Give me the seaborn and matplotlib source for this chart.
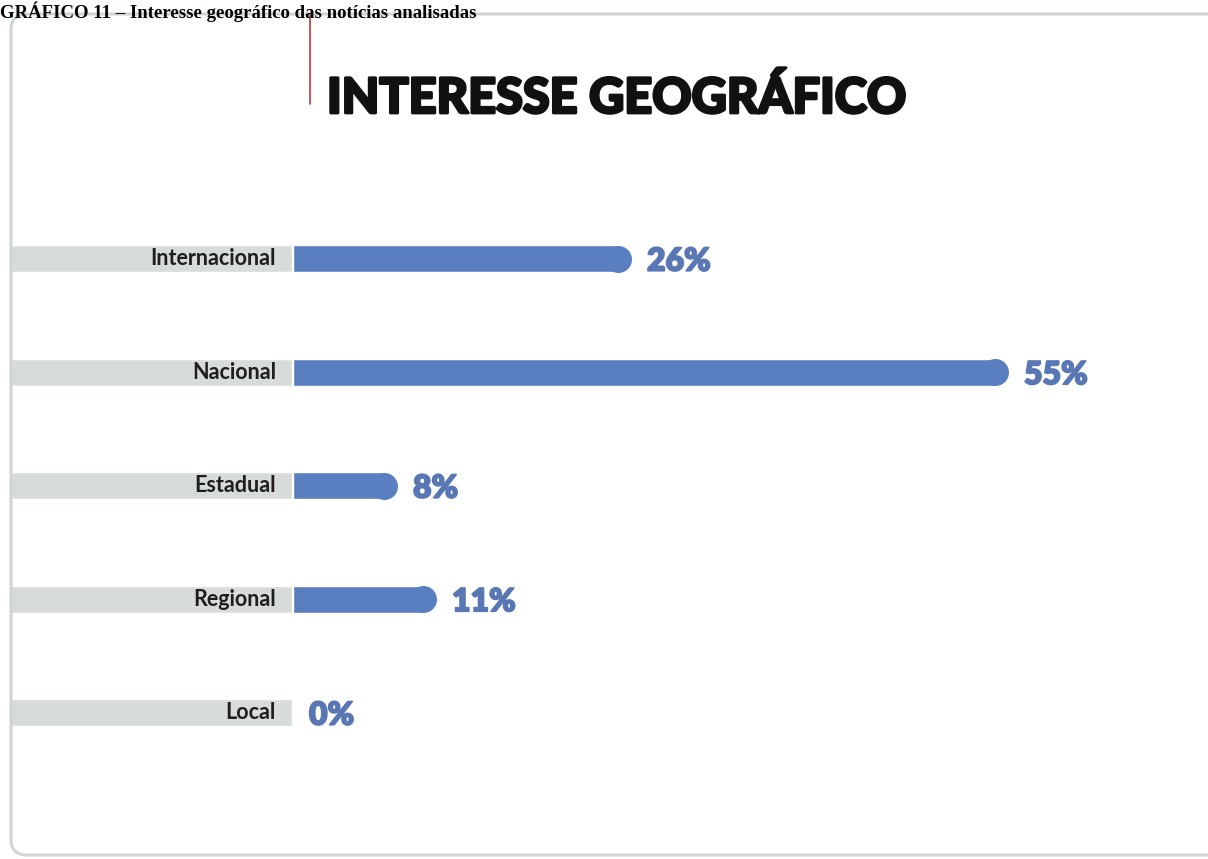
import matplotlib
matplotlib.use("Agg")
import matplotlib.pyplot as plt
import matplotlib.patheffects as pe
import seaborn as sns
from matplotlib.patches import FancyBboxPatch
from matplotlib.lines import Line2D

categories = ["Internacional", "Nacional", "Estadual", "Regional", "Local"]
values = [26, 55, 8, 11, 0]
value_labels = ["26%", "55%", "8%", "11%", "0%"]

heading = "GRÁFICO 11 – Interesse geográfico das notícias analisadas"
title = "INTERESSE GEOGRÁFICO"

BLUE = "#5a7fc1"
GRAY = "#d7dbda"
TXT_BLUE = "#5877b4"

W, H = 1208, 859
sns.set_theme(style="white")
plt.rcParams["font.family"] = ["Lato", "DejaVu Sans"]

fig = plt.figure(figsize=(W / 100, H / 100), dpi=100)
fig.patch.set_facecolor("white")

# pixel layout of the plotting area
ax_left, ax_right = 10, 1208
ax_top, ax_bot = 140, 830
zero_px = 293
scale = 13.0  # px per percentage point
ax = fig.add_axes([ax_left / W, 1 - ax_bot / H, (ax_right - ax_left) / W, (ax_bot - ax_top) / H])

xmin = -(zero_px - ax_left) / scale
xmax = (ax_right - zero_px) / scale
row_px = 113.5
first_px = 259
ylo = -(first_px - ax_top) / row_px
yhi = 4 + (ax_bot - (first_px + 4 * row_px)) / row_px

bar_h = 27 / row_px
sns.barplot(x=values, y=categories, orient="h", color=BLUE, width=bar_h,
            saturation=1, ax=ax, zorder=3)
ax.set_xlim(xmin, xmax)
ax.set_ylim(yhi, ylo)

# gray label strips
ypos = list(range(len(categories)))
ax.barh(ypos, [-xmin - 1 / scale] * len(ypos), left=xmin, height=bar_h, color=GRAY, zorder=2)

# rounded caps on the right end
r = 13.5 / scale
for p, v in zip(ax.patches[:len(values)], values):
    if v <= 0:
        continue
    p.set_width(v - r)
    yc = p.get_y() + p.get_height() / 2
    ax.scatter([v - r], [yc], s=(27 * 0.72) ** 2, color=BLUE, linewidths=0, zorder=3)

for i, (c, v, lab) in enumerate(zip(categories, values, value_labels)):
    ax.text(-17 / scale, i, c, ha="right", va="center", fontsize=15.5,
            fontweight="bold", color="#1e1e1e", zorder=4)
    ax.text(v + 16 / scale, i + 0.02, lab, ha="left", va="center", fontsize=23,
            fontweight="heavy", color=TXT_BLUE, zorder=4,
            path_effects=[pe.withStroke(linewidth=1.2, foreground=TXT_BLUE)])

ax.set_xlabel("")
ax.set_ylabel("")
ax.set_xticks([])
ax.set_yticks([])
for s in ax.spines.values():
    s.set_visible(False)
ax.patch.set_alpha(0)

# outer rounded frame
frame = FancyBboxPatch((11, H - 855), 1240, 841, boxstyle="round,pad=0,rounding_size=16",
                       transform=None, facecolor="none", edgecolor="#cfd5d3",
                       linewidth=2.2, zorder=0)
fig.patches.append(frame)

# red accent line and title
fig.add_artist(Line2D([310 / W, 310 / W], [1 - 15 / H, 1 - 104 / H],
                      transform=fig.transFigure, color="#c44b47", linewidth=1.3))
fig.text(327 / W, 1 - 113 / H, title, ha="left", va="baseline", fontsize=35,
         fontweight="black", color="#111111",
         path_effects=[pe.withStroke(linewidth=2.0, foreground="#111111")])

# document heading above the frame
fig.text(0, 1 - 1 / H, heading, ha="left", va="top", fontsize=13.5,
         fontweight="bold", color="black", family=["Liberation Serif", "DejaVu Serif"])

fig.savefig("out.png", dpi=100)
